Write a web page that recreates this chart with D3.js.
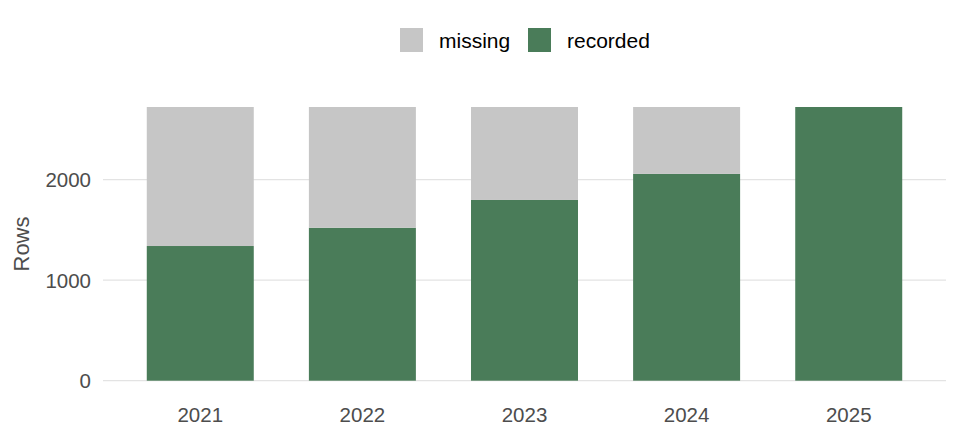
<!DOCTYPE html>
<html><head><meta charset="utf-8">
<script src="https://cdn.jsdelivr.net/npm/d3@7"></script>
<style>body{margin:0;background:#fff}svg{display:block}text{font-family:"Liberation Sans",Arial,sans-serif}</style>
</head><body><svg id="c" width="960" height="441"></svg>
<script>
const years = ["2021","2022","2023","2024","2025"];
const recorded = [1340, 1522, 1798, 2057, 2723];
const missing = [1383, 1201, 925, 666, 0];
const yTicks = [0, 1000, 2000];
const seriesNames = ["missing","recorded"];
const colors = {missing:"#c6c6c6", recorded:"#4a7c59"};

const svg = d3.select("#c");
const x = d3.scaleLinear().domain([-0.6, years.length - 1 + 0.6]).range([103, 946]);
const y = d3.scaleLinear().domain([0, 2723]).range([380.7, 107]);
const bw = 0.66;

// grid
svg.append("g").selectAll("line").data(yTicks).join("line")
  .attr("x1", 103).attr("x2", 946)
  .attr("y1", d => y(d)).attr("y2", d => y(d))
  .attr("stroke", "#e3e3e3").attr("stroke-width", 1.2);

const data = years.map((yr, i) => ({yr, i, recorded: recorded[i], missing: missing[i]}));
const stack = d3.stack().keys(["recorded","missing"])(data);
svg.append("g").selectAll("g").data(stack).join("g")
  .attr("fill", s => colors[s.key])
  .selectAll("rect").data(s => s).join("rect")
  .attr("x", d => x(d.data.i - bw/2))
  .attr("width", d => x(bw) - x(0))
  .attr("y", d => y(d[1]))
  .attr("height", d => y(d[0]) - y(d[1]));

// y axis labels
svg.append("g").selectAll("text").data(yTicks).join("text")
  .attr("x", 91).attr("y", d => y(d)).attr("dy", "0.36em")
  .attr("text-anchor", "end").attr("font-size", 20.5).attr("fill", "#4d4d4d")
  .text(d => d);

// x axis labels
svg.append("g").selectAll("text").data(years).join("text")
  .attr("x", (d, i) => x(i)).attr("y", 422)
  .attr("text-anchor", "middle").attr("font-size", 20.5).attr("fill", "#4d4d4d")
  .text(d => d);

svg.append("text").attr("transform", "translate(29,244) rotate(-90)")
  .attr("text-anchor", "middle").attr("font-size", 22).attr("fill", "#4d4d4d").text("Rows");

// legend
const lx = [400, 528];
const lg = svg.append("g").selectAll("g").data(seriesNames).join("g")
  .attr("transform", (d, i) => `translate(${lx[i]},28)`);
lg.append("rect").attr("width", 23).attr("height", 24).attr("fill", d => colors[d]);
lg.append("text").attr("x", 39).attr("y", 19.5)
  .attr("font-size", 21).attr("fill", "#000").text(d => d);
</script></body></html>
